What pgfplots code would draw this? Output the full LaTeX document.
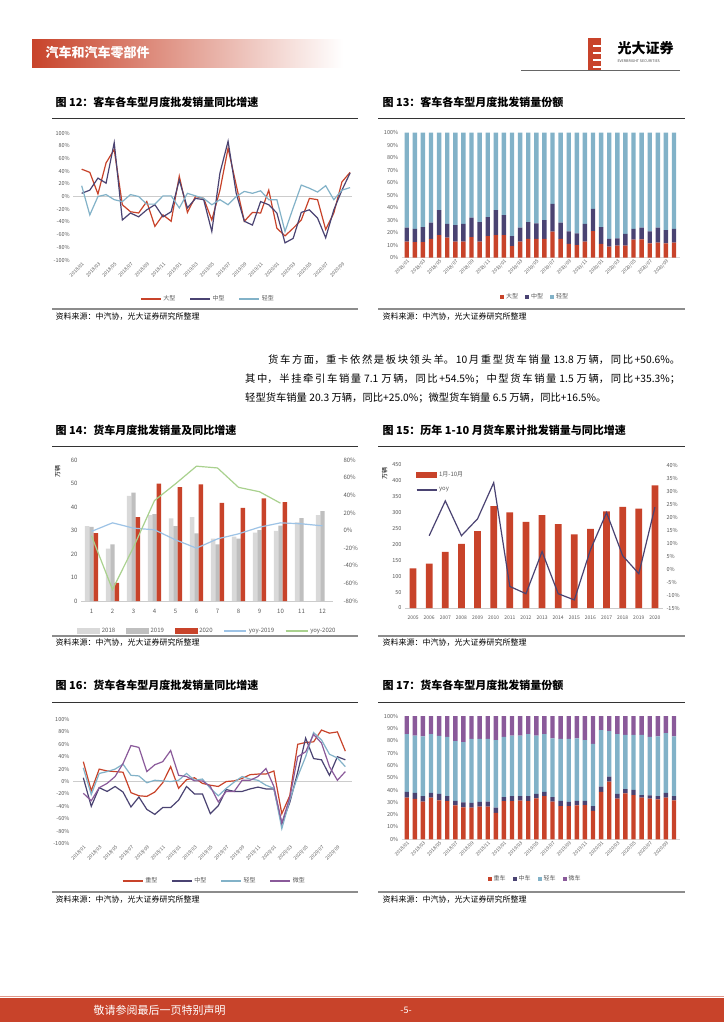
\documentclass[border=0pt]{standalone}
\usepackage{fontspec}
\setmainfont{Noto Sans CJK SC}
\usepackage{pgfplots}
\usepackage{pgfplotstable}
\pgfplotsset{compat=1.18}

\definecolor{ebred}{HTML}{C8432A}
\definecolor{ebdark}{HTML}{4A4372}
\definecolor{eblblue}{HTML}{82B2C8}
\definecolor{ebpurple}{HTML}{8A5A9A}
\definecolor{g18}{HTML}{D9D9D9}
\definecolor{g19}{HTML}{BFBFBF}
\definecolor{yoyA}{HTML}{9DC3E6}
\definecolor{yoyB}{HTML}{A9D18E}
\definecolor{txtgray}{HTML}{595959}

\pgfplotsset{
  ebaxis/.style={
    scale only axis, anchor=south west,
    /pgf/number format/assume math mode=true,
    axis line style={draw=none}, tick style={draw=none},
    tick label style={font=\fontsize{5.5}{6}\selectfont, text=txtgray},
    legend style={draw=none, fill=none, font=\fontsize{6}{7}\selectfont, text=txtgray, legend columns=-1},
    legend cell align=left,
  },
  zeroline/.style={extra y ticks={0}, extra y tick labels={},
    extra y tick style={grid=major, major grid style={draw=#1, line width=0.8pt}}},
  monthticks/.style={xtick={0,2,...,32},
    xticklabels={2018/01,2018/03,2018/05,2018/07,2018/09,2018/11,2019/01,2019/03,2019/05,2019/07,2019/09,2019/11,2020/01,2020/03,2020/05,2020/07,2020/09},
    x tick label style={rotate=45, anchor=north east, font=\fontsize{4.8}{5}\selectfont, inner sep=1pt}},
  pct/.style={yticklabel={\pgfmathprintnumber{\tick}\%}},
}

% fig 12: bus yoy by type
\pgfplotstableread{
i big mid light
0 43 5 17
1 38 10 -29
2 4 29 0
3 53 21 3
4 74 85 -5
5 -13 -37 -8
6 -24 -26 3
7 -26 -32 0
8 -8 -21 -12
9 -47 -13 -12
10 -29 -32 1
11 -39 -24 1
12 32 26 -18
13 -25 -18 5
14 0 -3 1
15 -3 -5 -3
16 -37 -55 -13
17 10 37 -5
18 76 87 -13
19 18 5 0
20 -39 -39 8
21 -25 -45 5
22 -26 -8 9
23 10 -13 -5
24 -50 -26 -5
25 -62 -73 -55
26 -50 -66 -18
27 -37 -25 18
28 -3 -21 13
29 -5 -34 7
30 -52 -65 17
31 -26 -21 -5
32 23 10 10
33 38 37 14
}\tabA

% fig 13: bus share
\pgfplotstableread{
i big mid light
0 12.8 11.2 76
1 12.5 10.5 77
2 12.5 12 75.5
3 15 13 72
4 18 20 62
5 16 11 73
6 12.8 13.2 74
7 12.8 14.2 73
8 16.5 15.5 68
9 12.8 15.7 71.5
10 17.3 15.2 67.5
11 18 20 62
12 18 16 66
13 9.3 8 82.7
14 12.8 11.2 76
15 15 13.5 71.5
16 15 12.5 72.5
17 15 15 70
18 20.8 22.2 57
19 15 13 72
20 11 10 79
21 10 9.5 80.5
22 12.8 14.2 73
23 21.3 17.7 61
24 11 13.5 75.5
25 8.8 6.2 85
26 9.6 5.9 84.5
27 9.6 9.4 81
28 14.4 8.6 77
29 14.7 9.3 76
30 11.5 9.5 79
31 12 12 76
32 11.5 10.5 78
33 12 11 77
}\tabB

% fig 14: truck monthly sales
\pgfplotstableread{
m a b c d e
1 31.9 31.5 28.9 -1 -6
2 22.3 24.1 7.7 8.7 -67
3 44.7 46.1 35.7 2.7 -19
4 36.6 37.0 49.9 0.8 34
5 35.2 31.9 48.5 -10.6 53
6 35.7 28.8 49.6 -20 73
7 26.5 24.1 41.8 -9.5 71
8 27.4 26.5 39.6 -3.8 49
9 29.1 30.2 43.7 3.8 44
10 29.8 32.1 42.1 8.7 31
11 33.5 35.3 nan 7.6 nan
12 36.6 38.3 nan 5.3 nan
}\tabC

% fig 15: Jan-Oct cumulative
\pgfplotstableread{
y bar yoy
2005 124.5 nan
2006 140 12.8
2007 177 26.2
2008 202 12.8
2009 242 19.3
2010 321 33.2
2011 301 -6.7
2012 271 -9.5
2013 292 6.7
2014 264 -9.5
2015 232 -11.9
2016 249 7.4
2017 304 21.7
2018 318 5.1
2019 313 -1.8
2020 386 23.8
}\tabD

% fig 16: truck yoy by type
\pgfplotstableread{
i heavy mid light micro
0 32 6 22 -19
1 -15 -40 -21 -31
2 20 -10 13 -10
3 17 -16 16 -3
4 16 -8 20 8
5 15 -17 28 29
6 -18 -41 10 58
7 -23 -25 9 55
8 -24 -45 -2 16
9 -17 -53 2 27
10 -2 -42 1 32
11 24 -42 0 50
12 -11 -30 2 10
13 3 -8 13 8
14 6 -20 2 1
15 -3 -20 4 1
16 -6 -52 -11 -8
17 -8 -39 -23 -33
18 0 -13 -11 -16
19 1 -16 -1 -16
20 5 -16 8 2
21 11 -12 4 2
22 12 -9 2 8
23 12 -12 -6 21
24 17 -12 -11 -8
25 -52 -68 -76 -67
26 -23 -34 -30 -26
27 60 15 8 40
28 63 70 40 48
29 64 37 79 76
30 83 35 67 62
31 78 10 44 24
32 80 40 38 2
33 49 35 24 16
}\tabE

% fig 17: truck share
\pgfplotstableread{
i heavy mid light micro
0 33.8 4.6 47 14.6
1 32.7 4.9 46.4 16
2 30.5 4.6 48.4 16.5
3 33.8 3.8 47.8 14.6
4 31.6 5.2 47 16.2
5 31 4.1 47.9 17
6 27.6 3.5 48.6 20.3
7 25.9 4.1 48.9 21.1
8 25.7 3.8 51.9 18.6
9 26.5 3.8 51.1 18.6
10 26.5 4 50.9 18.6
11 21.4 4.3 54.8 19.5
12 31 3.3 48.7 17
13 31 4.1 48.9 16
14 31.4 3.7 48.9 16
15 31 4.1 50.3 14.6
16 33.2 3.6 47.2 16
17 35.1 3.3 47 14.6
18 30.5 3.8 47.6 18.1
19 27 4.1 50.3 18.6
20 27 3.3 51.1 18.6
21 27.6 3.5 50.8 18.1
22 27.8 3.3 49.4 19.5
23 23 4 50.3 22.7
24 38.4 4.3 45.9 11.4
25 46.8 4 37 12.2
26 33 3.8 48.6 14.6
27 37.3 3.5 43.8 15.4
28 35.9 4.1 44.6 15.4
29 33.8 2.1 48.7 15.4
30 33 2.7 47.3 17
31 32.4 2.7 48.4 16.5
32 33.8 3.8 48.6 13.8
33 31.6 3.5 48.4 16.5
}\tabF

% CJK glue so that the two full body lines can be justified
\XeTeXlinebreaklocale "zh"
\XeTeXlinebreakskip=0pt plus 3pt

\begin{document}
\begin{tikzpicture}
\fill[white] (0pt,0pt) rectangle (724pt,-1024pt);

% header
\shade[left color=ebred, right color=white] (32pt,-40pt) rectangle (343pt,-68pt);
\node[anchor=west, text=white, font=\fontsize{13}{15}\selectfont\bfseries] at (42pt,-53pt) {汽车和汽车零部件};
\fill[ebred] (588pt,-38pt) rectangle (601pt,-70pt);
\foreach \yy in {45,52,59,66} \fill[white] (593pt,-\yy pt) rectangle (602pt,-\yy pt-2pt);
\node[anchor=west, font=\fontsize{14}{16}\selectfont\bfseries] at (614pt,-48pt) {光大证券};
\node[anchor=west, font=\fontsize{3.6}{4}\selectfont, text=black!70] at (614pt,-61pt) {EVERBRIGHT SECURITIES};
\draw[black!60, line width=1pt] (521pt,-71pt) -- (680pt,-71pt);

% titles and rules
\begin{scope}[every node/.style={anchor=west, font=\fontsize{11}{13}\selectfont\bfseries}]
\node at (52pt,-102pt) {图 12：客车各车型月度批发销量同比增速};
\node at (379pt,-102pt) {图 13：客车各车型月度批发销量份额};
\node at (52pt,-430pt) {图 14：货车月度批发销量及同比增速};
\node at (379pt,-430pt) {图 15：历年 1-10 月货车累计批发销量与同比增速};
\node at (52pt,-685pt) {图 16：货车各车型月度批发销量同比增速};
\node at (379pt,-685pt) {图 17：货车各车型月度批发销量份额};
\end{scope}
\foreach \yy in {118,446,702} {
  \draw[black!80, line width=0.9pt] (52pt,-\yy pt) -- (358pt,-\yy pt);
  \draw[black!80, line width=0.9pt] (378pt,-\yy pt) -- (685pt,-\yy pt);
}
\foreach \yy/\ty in {309/317,636/643,892/900} {
  \draw[black!45, line width=1.3pt] (52pt,-\yy pt) -- (358pt,-\yy pt);
  \draw[black!45, line width=1.3pt] (378pt,-\yy pt) -- (685pt,-\yy pt);
  \node[anchor=west, font=\fontsize{8}{9}\selectfont] at (52pt,-\ty pt) {资料来源：中汽协，光大证券研究所整理};
  \node[anchor=west, font=\fontsize{8}{9}\selectfont] at (379pt,-\ty pt) {资料来源：中汽协，光大证券研究所整理};
}

% body text
\begin{scope}[every node/.style={anchor=west, font=\fontsize{10.3}{12}\selectfont, inner sep=0pt}]
\node at (268pt,-360pt) {\parbox{412pt}{\noindent\parfillskip=0pt 货车方面，重卡依然是板块领头羊。10月重型货车销量 13.8 万辆，同比+50.6\%。}};
\node at (245pt,-379pt) {\parbox{435pt}{\noindent\parfillskip=0pt 其中，半挂牵引车销量 7.1 万辆，同比+54.5\%；中型货车销量 1.5 万辆，同比+35.3\%；}};
\node at (245pt,-398pt) {轻型货车销量 20.3 万辆，同比+25.0\%；微型货车销量 6.5 万辆，同比+16.5\%。};
\end{scope}

% ---- fig 12
\begin{axis}[ebaxis, at={(73.3pt,-260pt)}, width=278.4pt, height=127pt,
  xmin=-1.03, xmax=33.2, ymin=-100, ymax=100,
  ytick={-100,-80,...,100}, pct, zeroline=black!20, monthticks,
  legend style={at={(0.484,-0.307)}, anchor=center,
    /tikz/every even column/.append style={column sep=12pt}},
  legend image code/.code={\draw[#1] (0pt,0pt) -- (20pt,0pt);},
]
\addplot[ebred, line width=1.2pt] table[x=i,y=big]{\tabA};
\addplot[ebdark, line width=1.2pt] table[x=i,y=mid]{\tabA};
\addplot[eblblue, line width=1.2pt] table[x=i,y=light]{\tabA};
\legend{大型,中型,轻型}
\end{axis}

% ---- fig 13
\begin{axis}[ebaxis, at={(401.7pt,-257.7pt)}, width=278.3pt, height=125pt,
  ybar stacked, bar width=4.4pt,
  xmin=-0.62, xmax=33.74, ymin=0, ymax=100,
  ytick={0,10,...,100}, pct, zeroline=black!15, monthticks,
  legend style={at={(0.479,-0.314)}, anchor=center,
    /tikz/every even column/.append style={column sep=5pt}},
  legend image code/.code={\fill[#1] (0pt,-2pt) rectangle (4pt,2pt);},
]
\addplot[fill=ebred, draw=none] table[x=i,y=big]{\tabB};
\addplot[fill=ebdark, draw=none] table[x=i,y=mid]{\tabB};
\addplot[fill=eblblue, draw=none] table[x=i,y=light]{\tabB};
\legend{大型,中型,轻型}
\end{axis}

% ---- fig 14 bars
\begin{axis}[ebaxis, at={(81pt,-601pt)}, width=252pt, height=141pt,
  ybar=0pt, bar width=4.4pt,
  xmin=0.5, xmax=12.5, ymin=0, ymax=60,
  ytick={0,10,...,60}, xtick={1,...,12}, zeroline=black!20,
  tick label style={font=\fontsize{6}{7}\selectfont},
  ylabel={万辆}, ylabel style={at={(axis description cs:-0.093,0.915)}, anchor=center,
    font=\fontsize{6}{7}\selectfont},
]
\addplot[fill=g18, draw=none] table[x=m,y=a]{\tabC};
\addplot[fill=g19, draw=none] table[x=m,y=b]{\tabC};
\addplot[fill=ebred, draw=none] table[x=m,y=c]{\tabC};
\end{axis}
% ---- fig 14 lines
\begin{axis}[ebaxis, at={(81pt,-601pt)}, width=252pt, height=141pt,
  xmin=0.5, xmax=12.5, ymin=-80, ymax=80,
  ytick={-80,-60,...,80}, pct, yticklabel pos=right, xtick=\empty,
  tick label style={font=\fontsize{6}{7}\selectfont},
  y tick label style={xshift=7pt},
  legend style={at={(0.502,-0.213)}, anchor=center,
    /tikz/every even column/.append style={column sep=9pt}},
  legend image code/.code={\draw[#1] (0pt,0pt) -- (22pt,0pt);},
]
\addlegendimage{legend image code/.code={\fill[g18] (0pt,-2.5pt) rectangle (22pt,2.5pt);}}
\addlegendentry{2018}
\addlegendimage{legend image code/.code={\fill[g19] (0pt,-2.5pt) rectangle (22pt,2.5pt);}}
\addlegendentry{2019}
\addlegendimage{legend image code/.code={\fill[ebred] (0pt,-2.5pt) rectangle (22pt,2.5pt);}}
\addlegendentry{2020}
\addplot[yoyA, line width=1.2pt] table[x=m,y=d]{\tabC};
\addlegendentry{yoy-2019}
\addplot[yoyB, line width=1.2pt] table[x=m,y=e]{\tabC};
\addlegendentry{yoy-2020}
\end{axis}

% ---- fig 15 bars
\begin{axis}[ebaxis, at={(405pt,-608pt)}, width=258pt, height=143pt,
  ybar, bar width=6.7pt, /pgf/number format/1000 sep={},
  xmin=2004.5, xmax=2020.5, ymin=0, ymax=450,
  ytick={0,50,...,450}, xtick={2005,...,2020}, zeroline=black!20,
  x tick label style={font=\fontsize{5}{6}\selectfont},
  ylabel={万辆}, ylabel style={at={(axis description cs:-0.079,0.944)}, anchor=center,
    font=\fontsize{6}{7}\selectfont},
]
\addplot[fill=ebred, draw=none] table[x=y,y=bar]{\tabD};
\end{axis}
% ---- fig 15 line
\begin{axis}[ebaxis, at={(405pt,-608pt)}, width=258pt, height=143pt,
  xmin=2004.5, xmax=2020.5, ymin=-15, ymax=40,
  ytick={-15,-10,...,40}, pct, yticklabel pos=right, xtick=\empty,
  legend style={at={(0.03,0.985)}, anchor=north west, legend columns=1, row sep=6pt},
  legend image code/.code={\draw[#1] (0pt,0pt) -- (20pt,0pt);},
]
\addlegendimage{legend image code/.code={\fill[ebred] (0pt,-2.5pt) rectangle (20pt,2.5pt);}}
\addlegendentry{1月-10月}
\addplot[ebdark, line width=1.2pt] table[x=y,y=yoy]{\tabD};
\addlegendentry{yoy}
\end{axis}

% ---- fig 16
\begin{axis}[ebaxis, at={(73pt,-843.5pt)}, width=279pt, height=124pt,
  xmin=-1.3, xmax=33.84, ymin=-100, ymax=100,
  ytick={-100,-80,...,100}, pct, zeroline=black!20, monthticks,
  legend style={at={(0.507,-0.302)}, anchor=center,
    /tikz/every even column/.append style={column sep=12pt}},
  legend image code/.code={\draw[#1] (0pt,0pt) -- (20pt,0pt);},
]
\addplot[ebred, line width=1.2pt] table[x=i,y=heavy]{\tabE};
\addplot[ebdark, line width=1.2pt] table[x=i,y=mid]{\tabE};
\addplot[eblblue, line width=1.2pt] table[x=i,y=light]{\tabE};
\addplot[ebpurple, line width=1.2pt] table[x=i,y=micro]{\tabE};
\legend{重型,中型,轻型,微型}
\end{axis}

% ---- fig 17
\begin{axis}[ebaxis, at={(401.7pt,-839.3pt)}, width=278.3pt, height=123.3pt,
  ybar stacked, bar width=4.4pt,
  xmin=-0.62, xmax=33.74, ymin=0, ymax=100,
  ytick={0,10,...,100}, pct, zeroline=black!15, monthticks,
  legend style={at={(0.479,-0.322)}, anchor=center,
    /tikz/every even column/.append style={column sep=5pt}},
  legend image code/.code={\fill[#1] (0pt,-2pt) rectangle (4pt,2pt);},
]
\addplot[fill=ebred, draw=none] table[x=i,y=heavy]{\tabF};
\addplot[fill=ebdark, draw=none] table[x=i,y=mid]{\tabF};
\addplot[fill=eblblue, draw=none] table[x=i,y=light]{\tabF};
\addplot[fill=ebpurple, draw=none] table[x=i,y=micro]{\tabF};
\legend{重车,中车,轻车,微车}
\end{axis}

% footer
\draw[ebred!55, line width=0.8pt] (0pt,-996.5pt) -- (724pt,-996.5pt);
\fill[ebred] (0pt,-998pt) rectangle (724pt,-1022pt);
\node[anchor=west, text=white, font=\fontsize{11}{13}\selectfont] at (90pt,-1010pt) {敬请参阅最后一页特别声明};
\node[text=white, font=\fontsize{9}{11}\selectfont] at (406pt,-1010pt) {-5-};

\pgfresetboundingbox
\useasboundingbox (0pt,0pt) rectangle (724pt,-1024pt);
\end{tikzpicture}
\end{document}
